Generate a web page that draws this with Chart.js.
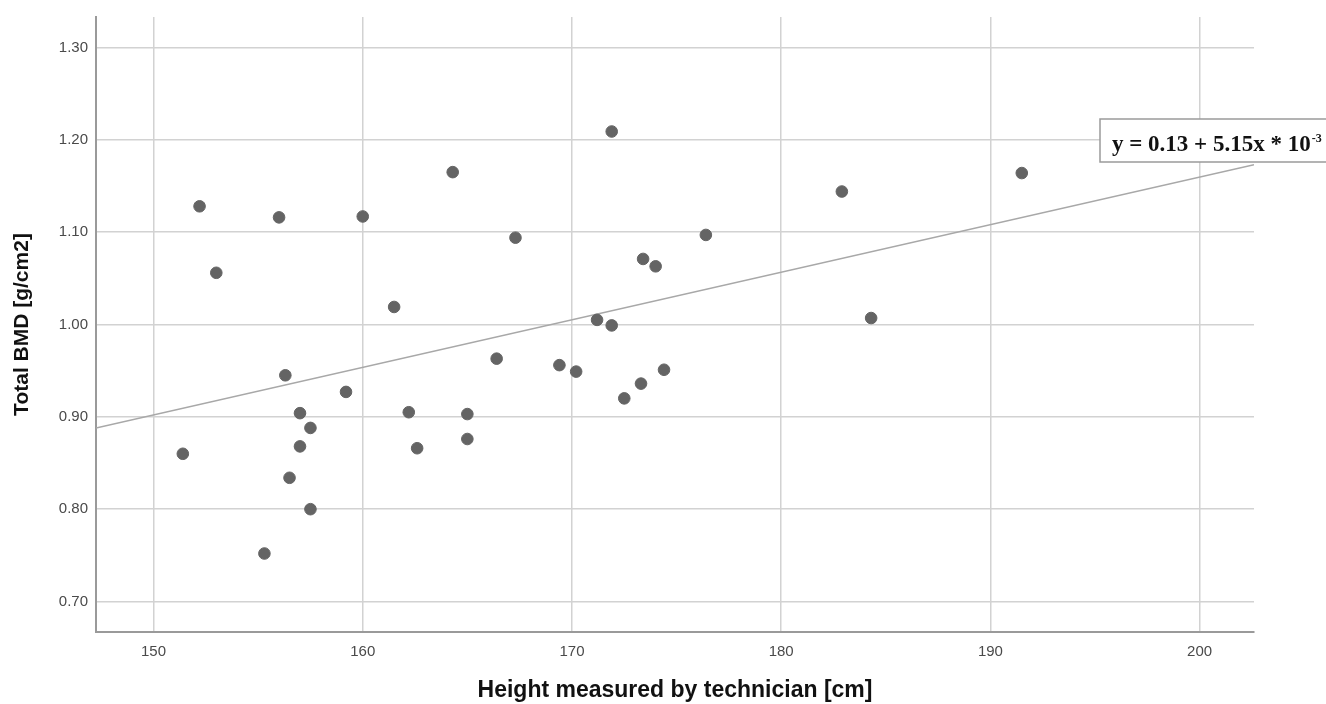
<!DOCTYPE html>
<html>
<head>
<meta charset="utf-8">
<script src="https://cdn.jsdelivr.net/npm/chart.js@4.4.1/dist/chart.umd.min.js"></script>
<style>
  body { margin: 0; background: #fff; }
  #wrap { width: 1326px; height: 704px; }
</style>
</head>
<body>
<div id="wrap"><canvas id="myChart" width="1326" height="704"></canvas></div>
<script>
// heights (cm) and total BMD (g/cm2)
const heights = [151.4, 152.2, 153.0, 155.3, 156.0, 156.3, 156.5, 157.0, 157.0, 157.5, 157.5, 159.2,
                 160.0, 161.5, 162.2, 162.6, 164.3, 165.0, 165.0, 166.4, 167.3, 169.4, 170.2, 171.2,
                 171.9, 171.9, 172.5, 173.3, 173.4, 174.0, 174.4, 176.4, 182.9, 184.3, 191.5];
const bmd = [0.860, 1.128, 1.056, 0.752, 1.116, 0.945, 0.834, 0.904, 0.868, 0.888, 0.800, 0.927,
             1.117, 1.019, 0.905, 0.866, 1.165, 0.903, 0.876, 0.963, 1.094, 0.956, 0.949, 1.005,
             1.209, 0.999, 0.920, 0.936, 1.071, 1.063, 0.951, 1.097, 1.144, 1.007, 1.164];

// fit line end points
const fitX = [147.25, 202.6];
const fitY = [0.888, 1.173];

const xTicks = [150, 160, 170, 180, 190, 200];
const yTicks = [0.70, 0.80, 0.90, 1.00, 1.10, 1.20, 1.30];

const fitText = 'y = 0.13 + 5.15x * 10';
const fitSup = '-3';

const points = heights.map((h, i) => ({ x: h, y: bmd[i] }));
const fitLine = fitX.map((x, i) => ({ x: x, y: fitY[i] }));

const fitLabel = {
    id: 'fitLabel',
    afterDatasetsDraw(chart) {
        const c = chart.ctx;
        const left = 1100, top = 119, bottom = 162;
        c.save();
        c.fillStyle = '#fff';
        c.fillRect(left, top, 240, bottom - top);
        c.strokeStyle = '#9a9a9a';
        c.lineWidth = 1.5;
        c.strokeRect(left, top, 240, bottom - top);
        c.fillStyle = '#111';
        c.textBaseline = 'alphabetic';
        c.font = 'bold 23px "Liberation Serif"';
        c.fillText(fitText, 1112, 151);
        const w = c.measureText(fitText).width;
        c.font = 'bold 12px "Liberation Serif"';
        c.fillText(fitSup, 1112 + w + 1, 142);
        c.restore();
    }
};

const ctx = document.getElementById('myChart').getContext('2d');
const myChart = new Chart(ctx, {
    type: 'scatter',
    data: {
        datasets: [{
            data: points,
            backgroundColor: '#646464',
            borderColor: '#646464',
            pointRadius: 5.8,
            order: 1
        }, {
            type: 'line',
            data: fitLine,
            borderColor: '#a8a8a8',
            borderWidth: 1.5,
            pointRadius: 0,
            order: 2
        }]
    },
    options: {
        responsive: false,
        animation: false,
        layout: { padding: { top: 15, right: 72, left: 0, bottom: 0 } },
        scales: {
            x: {
                type: 'linear',
                min: 147.25,
                max: 202.6,
                afterBuildTicks: (s) => { s.ticks = xTicks.map(v => ({ value: v })); },
                afterFit: (s) => { s.height = 72; },
                ticks: {
                    padding: 11,
                    color: '#4a4a4a',
                    font: { family: 'Liberation Sans', size: 15 },
                    callback: (v) => v
                },
                grid: { color: '#d2d2d2', lineWidth: 1.5, drawTicks: false },
                border: { color: '#9a9a9a', width: 2 },
                title: {
                    display: true,
                    text: 'Height measured by technician [cm]',
                    color: '#111',
                    font: { family: 'Liberation Sans', size: 23, weight: 'bold' },
                    padding: { top: 0, bottom: 0 }
                }
            },
            y: {
                min: 0.667,
                max: 1.333,
                afterBuildTicks: (s) => { s.ticks = yTicks.map(v => ({ value: v })); },
                afterFit: (s) => { s.width = 96; },
                ticks: {
                    padding: 8,
                    color: '#4a4a4a',
                    font: { family: 'Liberation Sans', size: 15 },
                    callback: (v) => v.toFixed(2)
                },
                grid: { color: '#d2d2d2', lineWidth: 1.5, drawTicks: false },
                border: { color: '#9a9a9a', width: 2 },
                title: {
                    display: true,
                    text: 'Total BMD [g/cm2]',
                    color: '#111',
                    font: { family: 'Liberation Sans', size: 21, weight: 'bold' },
                    padding: { top: 10, bottom: 0 }
                }
            }
        },
        plugins: {
            legend: false,
            tooltip: { enabled: false }
        }
    },
    plugins: [fitLabel]
});
</script>
</body>
</html>
